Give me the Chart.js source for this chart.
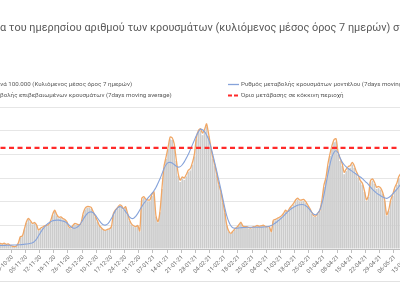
<!DOCTYPE html>
<html>
<head>
<meta charset="utf-8">
<title>Κρούσματα ανά 100.000</title>
<script src="https://cdn.jsdelivr.net/npm/chart.js@4"></script>
<style>
  body { margin: 0; width: 400px; height: 300px; overflow: hidden; background: #fff; position: relative; }
  #myChart { position: absolute; left: -59px; top: 0; }
</style>
</head>
<body>
<canvas id="myChart" width="480" height="300"></canvas>
<script>
"use strict";

// first day of the series (19-10-2020), one bar per day
const startYear = 2020, startMonth = 9, startDate = 19;

// 7 day average cases per 100.000 (grey bars)
const casesPer100k = [
  2.0, 2.3, 1.9, 2.1, 2.2, 2.0, 2.3, 1.9, 2.0, 1.5,
  1.1, 0.9, 1.2, 2.3, 4.9, 5.3, 8.2, 11.0, 12.5, 11.6,
  10.4, 10.9, 9.9, 7.8, 8.5, 9.0, 9.5, 9.7, 10.0, 11.6,
  14.3, 15.9, 14.1, 13.0, 13.2, 12.5, 12.1, 11.1, 9.0, 8.6,
  9.7, 10.4, 10.2, 9.9, 10.6, 14.5, 16.7, 17.4, 17.5, 17.1,
  15.2, 13.6, 11.6, 9.7, 8.7, 8.0, 7.6, 8.0, 8.2, 9.2,
  14.5, 16.0, 17.0, 18.1, 17.8, 16.5, 17.4, 14.6, 11.8, 10.2,
  9.5, 9.1, 9.7, 7.4, 20.8, 21.5, 20.4, 20.1, 20.2, 22.4,
  23.6, 13.6, 11.2, 15.5, 25.3, 34.2, 38.0, 42.1, 46.4, 46.1,
  43.6, 37.2, 31.0, 28.3, 29.7, 29.2, 30.7, 32.5, 33.2, 35.6,
  39.1, 46.3, 49.2, 49.9, 48.1, 49.5, 51.8, 47.7, 42.9, 38.2,
  35.0, 31.2, 26.9, 23.9, 19.5, 15.3, 9.8, 7.3, 6.4, 7.3,
  8.2, 8.9, 10.0, 11.0, 9.3, 9.1, 9.1, 8.7, 8.6, 9.1,
  9.1, 9.7, 9.3, 9.5, 9.8, 9.2, 9.1, 9.1, 7.1, 11.8,
  12.1, 12.6, 13.0, 13.6, 14.6, 15.9, 15.3, 16.7, 17.7, 18.8,
  20.1, 20.9, 20.1, 20.1, 20.4, 19.4, 18.1, 16.7, 15.0, 13.6,
  13.6, 14.8, 15.9, 20.1, 26.2, 29.4, 35.2, 39.3, 42.7, 45.1,
  45.4, 39.9, 37.2, 35.2, 31.6, 32.9, 33.9, 34.3, 35.7, 34.3,
  31.9, 30.2, 28.2, 27.1, 24.1, 20.3, 22.0, 28.2, 28.9, 27.5,
  25.4, 25.7, 25.1, 23.4, 20.2, 14.0, 16.1, 20.2, 22.5, 25.3,
  27.1, 29.8, 31.2, 32.2, 30.7, 31.7, 32.6, 33.1, 32.3
];

// confirmed cases rate (orange line)
const confirmedRate = [
  2.2, 2.5, 2.0, 2.3, 2.4, 2.1, 2.5, 2.0, 2.2, 1.6,
  1.2, 1.0, 1.3, 2.5, 5.2, 5.5, 8.5, 11.5, 12.9, 12.0,
  10.8, 11.2, 10.2, 8.0, 8.8, 9.3, 9.8, 10.0, 10.3, 12.0,
  14.8, 16.4, 14.5, 13.4, 13.6, 12.9, 12.5, 11.5, 9.3, 8.9,
  10.0, 10.8, 10.5, 10.2, 11.0, 15.0, 17.2, 17.9, 17.9, 17.6,
  15.7, 14.0, 12.0, 10.0, 9.0, 8.2, 7.9, 8.3, 8.5, 9.5,
  15.0, 16.5, 17.5, 18.6, 18.3, 17.0, 17.9, 15.0, 12.2, 10.5,
  9.8, 9.4, 10.0, 7.6, 21.4, 22.1, 21.0, 20.7, 20.7, 23.0,
  24.2, 14.0, 11.5, 16.0, 26.0, 35.0, 38.9, 43.0, 47.3, 47.0,
  44.5, 38.0, 31.9, 29.1, 30.5, 30.0, 31.5, 33.3, 34.0, 36.5,
  40.0, 47.3, 50.1, 50.8, 49.0, 50.5, 52.9, 48.7, 43.8, 39.0,
  35.8, 31.9, 27.5, 24.5, 20.0, 15.7, 10.1, 7.5, 6.6, 7.5,
  8.5, 9.2, 10.3, 11.3, 9.6, 9.4, 9.4, 9.0, 8.9, 9.4,
  9.4, 10.0, 9.6, 9.8, 10.1, 9.5, 9.4, 9.4, 7.3, 12.2,
  12.5, 13.0, 13.4, 14.0, 15.0, 16.4, 15.8, 17.2, 18.2, 19.3,
  20.7, 21.5, 20.7, 20.7, 21.0, 20.0, 18.6, 17.2, 15.5, 14.0,
  14.0, 15.2, 16.4, 20.7, 27.0, 30.2, 36.1, 40.3, 43.8, 46.2,
  46.6, 40.9, 38.2, 36.1, 32.4, 33.8, 34.8, 35.2, 36.6, 35.2,
  32.7, 31.0, 28.9, 27.8, 24.7, 20.8, 22.6, 28.9, 29.6, 28.2,
  26.1, 26.4, 25.8, 24.0, 20.7, 14.4, 16.5, 20.7, 23.1, 26.0,
  27.8, 30.6, 32.0, 33.0, 31.5, 32.5, 33.5, 34.0, 33.2
];

// model rate (blue line)
const modelRate = [
  1.3, 1.3, 1.4, 1.4, 1.5, 1.5, 1.5, 1.6, 1.6, 1.6,
  1.7, 1.7, 1.7, 1.8, 1.8, 1.9, 2.0, 2.1, 2.2, 2.4,
  2.6, 3.2, 4.2, 5.6, 7.0, 8.3, 9.4, 10.3, 11.0, 11.5,
  11.9, 12.1, 12.2, 12.2, 12.0, 11.8, 11.5, 11.0, 10.2, 9.4,
  8.9, 8.8, 9.2, 9.9, 11.0, 12.5, 13.8, 14.9, 15.5, 15.7,
  15.3, 14.4, 13.2, 12.0, 10.9, 10.2, 10.1, 10.5, 11.5, 12.9,
  14.6, 16.2, 17.3, 17.9, 17.7, 16.9, 15.8, 14.6, 13.5, 12.9,
  13.0, 13.8, 15.0, 16.5, 17.9, 19.2, 20.4, 21.5, 22.5, 23.5,
  24.6, 26.0, 27.8, 29.7, 31.8, 34.0, 35.6, 36.5, 36.6, 36.3,
  35.7, 35.0, 34.6, 34.8, 35.6, 36.8, 38.4, 40.0, 42.0, 44.0,
  46.0, 48.0, 49.5, 50.6, 50.4, 49.6, 48.2, 46.3, 43.5, 40.2,
  36.6, 33.0, 29.3, 25.5, 21.5, 17.5, 14.0, 11.5, 9.8, 9.0,
  8.8, 8.8, 8.9, 9.0, 9.1, 9.1, 9.2, 9.2, 9.2, 9.2,
  9.2, 9.2, 9.2, 9.2, 9.3, 9.3, 9.4, 9.6, 9.9, 10.4,
  11.0, 11.6, 12.3, 13.1, 13.9, 14.8, 15.6, 16.4, 17.1, 17.6,
  18.1, 18.5, 18.7, 18.8, 18.7, 18.3, 17.6, 16.6, 15.5, 14.7,
  14.5, 15.2, 16.6, 19.2, 22.8, 27.3, 31.8, 35.8, 39.0, 40.9,
  41.5, 40.6, 38.5, 36.8, 35.6, 34.7, 34.0, 33.4, 32.8, 32.2,
  31.6, 31.0, 30.4, 29.7, 28.9, 28.1, 27.2, 26.1, 25.2, 24.4,
  23.6, 23.0, 22.5, 22.0, 21.6, 21.4, 21.8, 22.4, 23.3, 24.2,
  25.2, 26.3, 27.4, 28.5, 29.5, 30.4, 31.2, 31.9, 32.5
];

// red zone limit (dashed line)
const redZoneLimit = 42.7;

const titleText = "Πορεία του ημερησίου αριθμού των κρουσμάτων (κυλιόμενος μέσος όρος 7 ημερών) στην Περιφερειακή Ενότητα";
const titleHidden = "Πορεί";
const legendNames = [
  "Κρούσματα ανά 100.000 (Κυλιόμενος μέσος όρος 7 ημερών)",
  "Ρυθμός μεταβολής επιβεβαιωμένων κρουσμάτων (7days moving average)",
  "Ρυθμός μεταβολής κρουσμάτων μοντέλου (7days moving average)",
  "Όριο μετάβασης σε κόκκινη περιοχή"
];

// daily labels dd-mm-yy
const dayLabels = [];
for (let i = 0; i < casesPer100k.length; i++) {
  const d = new Date(startYear, startMonth, startDate + i);
  dayLabels.push(String(d.getDate()).padStart(2, "0") + "-" + String(d.getMonth() + 1).padStart(2, "0") + "-" + String(d.getFullYear()).slice(2));
}
const redLine = dayLabels.map(() => redZoneLimit);

// the page only shows part of the canvas
const shift = 59;

const textBits = {
  id: "textBits",
  afterDraw(chart) {
    const ctx = chart.ctx;
    ctx.save();
    ctx.fillStyle = "#595959";
    ctx.textBaseline = "middle";

    ctx.font = "10.9px Roboto";
    ctx.fillText(titleText, shift - ctx.measureText(titleHidden).width, 28);

    ctx.font = "6.2px Roboto";
    const leftX = shift - ctx.measureText("Ρυθμός μετα").width;
    const rightX = shift + 241;
    const row1 = 84.5, row2 = 95.5;

    ctx.fillStyle = "#cccccc";
    ctx.fillRect(leftX - 11, row1 - 3, 6, 6);
    ctx.lineWidth = 1.3;
    ctx.strokeStyle = "#f0a766";
    ctx.beginPath(); ctx.moveTo(leftX - 14, row2); ctx.lineTo(leftX - 3, row2); ctx.stroke();
    ctx.strokeStyle = "#86a3da";
    ctx.beginPath(); ctx.moveTo(rightX - 13, row1); ctx.lineTo(rightX - 2, row1); ctx.stroke();
    ctx.strokeStyle = "#ff2a2a";
    ctx.lineWidth = 2;
    ctx.setLineDash([4, 2]);
    ctx.beginPath(); ctx.moveTo(rightX - 13, row2); ctx.lineTo(rightX - 2, row2); ctx.stroke();
    ctx.setLineDash([]);

    ctx.fillStyle = "#595959";
    ctx.fillText(legendNames[0], leftX, row1);
    ctx.fillText(legendNames[1], leftX, row2);
    ctx.fillText(legendNames[2], rightX, row1);
    ctx.fillText(legendNames[3], rightX, row2);

    // thin frame line under the labels
    ctx.strokeStyle = "#e2e2e2";
    ctx.lineWidth = 1;
    ctx.beginPath(); ctx.moveTo(0, 281.5); ctx.lineTo(chart.width, 281.5); ctx.stroke();
    ctx.restore();
  }
};

const data = {
  labels: dayLabels,
  datasets: [
    {
      type: "line",
      label: legendNames[3],
      data: redLine,
      borderColor: "#ff2a2a",
      borderWidth: 2.2,
      borderDash: [5, 3.5],
      pointRadius: 0,
      order: 0
    },
    {
      type: "line",
      label: legendNames[2],
      data: modelRate,
      borderColor: "#86a3da",
      borderWidth: 1.1,
      pointRadius: 0,
      tension: 0.4,
      order: 1
    },
    {
      type: "line",
      label: legendNames[1],
      data: confirmedRate,
      borderColor: "#f0a766",
      borderWidth: 1.3,
      pointRadius: 0,
      tension: 0.2,
      order: 2
    },
    {
      type: "bar",
      label: legendNames[0],
      data: casesPer100k,
      backgroundColor: "#cccccc",
      borderWidth: 0,
      barPercentage: 0.85,
      categoryPercentage: 1,
      order: 3
    }
  ]
};

const config = {
  type: "bar",
  data: data,
  options: {
    responsive: false,
    animation: false,
    layout: { padding: { top: 107, bottom: 11, left: 0, right: 7 } },
    plugins: {
      legend: { display: false },
      title: { display: false },
      tooltip: { enabled: false }
    },
    scales: {
      x: {
        grid: {
          drawOnChartArea: false,
          tickLength: 4,
          tickColor: (c) => (c.index % 7 === 3 ? "#bfbfbf" : "rgba(0,0,0,0)")
        },
        border: { color: "#bfbfbf" },
        ticks: {
          autoSkip: false,
          minRotation: 45,
          maxRotation: 45,
          padding: 1,
          color: "#6b6b6b",
          font: { family: "Roboto", size: 5.8 },
          callback: (v, i) => (i % 7 === 3 ? dayLabels[i] : "")
        },
        afterFit: (axis) => { axis.height = 40; }
      },
      y: {
        min: 0,
        max: 60,
        ticks: { stepSize: 10, display: false },
        grid: { color: "#e6e6e6", drawTicks: false },
        border: { display: false },
        afterFit: (axis) => { axis.width = 50; }
      }
    }
  },
  plugins: [textBits]
};

const casesChart = new Chart(document.getElementById("myChart"), config);
</script>
</body>
</html>
